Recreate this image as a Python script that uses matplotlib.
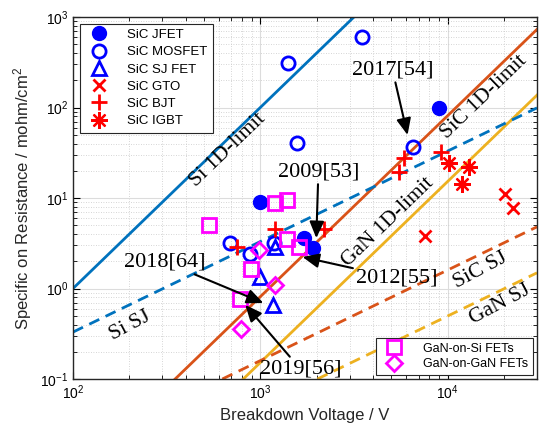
import matplotlib
matplotlib.use("Agg")
import matplotlib.pyplot as plt
from matplotlib.lines import Line2D

plt.rcParams['font.family'] = ['Liberation Sans', 'DejaVu Sans']
plt.rcParams['mathtext.fontset'] = 'custom'
plt.rcParams['mathtext.rm'] = 'Liberation Sans'
plt.rcParams['mathtext.it'] = 'Liberation Sans:italic'
plt.rcParams['mathtext.bf'] = 'Liberation Sans:bold'

# ---------------- data ----------------
# theoretical limit lines (endpoints)
si_1d_v = [100, 3162];   si_1d_r = [1.0, 1000]
sic_1d_v = [351, 30000]; sic_1d_r = [0.1, 730]
gan_1d_v = [811, 30000]; gan_1d_r = [0.1, 137]
si_sj_v = [100, 30000];  si_sj_r = [0.33, 99]
sic_sj_v = [627, 30000]; sic_sj_r = [0.1, 4.8]
gan_sj_v = [2018, 30000]; gan_sj_r = [0.1, 1.49]

jfet_v = [1000, 1706, 1918, 8975]
jfet_r = [9.1, 3.59, 2.78, 98]

mosfet_v = [1400, 3500, 1571, 6500, 692, 885, 1178]
mosfet_r = [307, 606, 40.2, 36.6, 3.22, 2.39, 3.16]

sjfet_v = [1203, 1000, 1175]
sjfet_r = [2.88, 1.35, 0.665]

gto_v = [20200, 22300, 7590]
gto_r = [11.1, 7.66, 3.80]

bjt_v = [5830, 5530, 9180, 2180, 1203, 750]
bjt_r = [28, 19.2, 32.5, 4.54, 4.54, 2.9]

igbt_v = [10200, 13000, 12000]
igbt_r = [24.2, 21.9, 14.4]

gansi_v = [529, 1203, 1390, 1390, 1603, 895, 781]
gansi_r = [5.04, 8.87, 9.5, 3.54, 2.9, 1.63, 0.76]

gangan_v = [981, 1191, 791]
gangan_r = [2.63, 1.09, 0.354]

line_labels = ["Si 1D-limit", "SiC 1D-limit", "GaN 1D-limit", "Si SJ", "SiC SJ", "GaN SJ"]
line_label_v = [675, 15600, 4830, 202, 15000, 18970]
line_label_r = [33.9, 130.6, 5.43, 0.385, 1.60, 0.658]
line_label_rot = [44, 44, 44, 28, 28, 28]

ann_text = ["2017[54]", "2009[53]", "2012[55]", "2018[64]", "2019[56]"]
ann_text_v = [5080, 2042, 5330, 310, 1636]
ann_text_r = [259, 19.4, 1.31, 1.96, 0.129]
ann_tip_v = [6110, 1990, 1680, 1038, 832]
ann_tip_r = [49.7, 3.61, 2.23, 0.692, 0.658]

# ---------------- figure ----------------
fig = plt.figure(figsize=(5.39, 4.29), dpi=100)
ax = fig.add_axes([73/539, 1-379/429, (537-73)/539, (379-17)/429])
ax.set_xscale('log'); ax.set_yscale('log')
ax.set_xlim(100, 30000); ax.set_ylim(0.1, 1000)

c_si, c_sic, c_gan = '#0072BD', '#D95319', '#EDB120'
ax.plot(si_1d_v, si_1d_r, color=c_si, lw=2)
ax.plot(sic_1d_v, sic_1d_r, color=c_sic, lw=2)
ax.plot(gan_1d_v, gan_1d_r, color=c_gan, lw=2)
ax.plot(si_sj_v, si_sj_r, color=c_si, lw=2, ls=(0, (4, 2.5)))
ax.plot(sic_sj_v, sic_sj_r, color=c_sic, lw=2, ls=(0, (4, 2.5)))
ax.plot(gan_sj_v, gan_sj_r, color=c_gan, lw=2, ls=(0, (4, 2.5)))

blue, red, mag = '#0000FF', '#FF0000', '#FF00FF'
h_jfet, = ax.plot(jfet_v, jfet_r, 'o', color=blue, ms=10, ls='none', label='SiC JFET')
h_mos, = ax.plot(mosfet_v, mosfet_r, 'o', mfc='none', mec=blue, mew=2, ms=9.5, ls='none', label='SiC MOSFET')
h_sj, = ax.plot(sjfet_v, sjfet_r, '^', mfc='none', mec=blue, mew=2, ms=10, ls='none', label='SiC SJ FET')
h_gto, = ax.plot(gto_v, gto_r, 'x', color=red, mew=2, ms=9, ls='none', label='SiC GTO')
h_bjt, = ax.plot(bjt_v, bjt_r, '+', color=red, mew=2, ms=12, ls='none', label='SiC BJT')
h_igbt, = ax.plot(igbt_v, igbt_r, marker=(8, 2, 0), color=red, mew=1.6, ms=12, ls='none', label='SiC IGBT')
h_gsi, = ax.plot(gansi_v, gansi_r, 's', mfc='none', mec=mag, mew=2, ms=10, ls='none', label='GaN-on-Si FETs')
h_ggan, = ax.plot(gangan_v, gangan_r, 'D', mfc='none', mec=mag, mew=2, ms=8.5, ls='none', label='GaN-on-GaN FETs')

serif = ['Liberation Serif', 'DejaVu Serif']
for t, v, r, rot in zip(line_labels, line_label_v, line_label_r, line_label_rot):
    ax.text(v, r, t, rotation=rot, rotation_mode='anchor', ha='center', va='center',
            fontsize=15.5, family=serif)

for t, tv, tr, pv, pr in zip(ann_text, ann_text_v, ann_text_r, ann_tip_v, ann_tip_r):
    ax.annotate(t, xy=(pv, pr), xytext=(tv, tr), ha='center', va='center',
                fontsize=16, family=serif,
                arrowprops=dict(arrowstyle='-|>,head_length=0.5,head_width=0.22', color='black', lw=1.5,
                                mutation_scale=20, shrinkA=0, shrinkB=0))

ax.grid(which='major', color='#dcdcdc', lw=0.8)
ax.grid(which='minor', color='#c8c8c8', lw=0.6, ls=(0, (1, 2)))
ax.set_axisbelow(True)
ax.tick_params(which='both', direction='in', top=True, right=True, labelsize=10)
ax.tick_params(which='major', length=5)
ax.tick_params(which='minor', length=3)
for s in ax.spines.values():
    s.set_linewidth(1.0)
    s.set_color('#262626')

ax.set_xlabel('Breakdown Voltage / V', fontsize=12, color='#262626')
ax.set_ylabel('Specific on Resistance / mohm/cm$^2$', fontsize=12, color='#262626')

leg1 = ax.legend(handles=[h_jfet, h_mos, h_sj, h_gto, h_bjt, h_igbt], loc='upper left',
                 fontsize=9.5, fancybox=False, framealpha=1, edgecolor='#262626',
                 handlelength=2.2, handletextpad=1.0, labelspacing=0.38, borderaxespad=0.5)
leg1.get_frame().set_linewidth(0.8)
ax.add_artist(leg1)
leg2 = ax.legend(handles=[h_gsi, h_ggan], loc='lower right',
                 fontsize=9, fancybox=False, framealpha=1, edgecolor='#262626',
                 handlelength=2.2, handletextpad=1.2, labelspacing=0.3, borderaxespad=0.3)
leg2.get_frame().set_linewidth(0.8)

fig.savefig('out.png', dpi=100)
